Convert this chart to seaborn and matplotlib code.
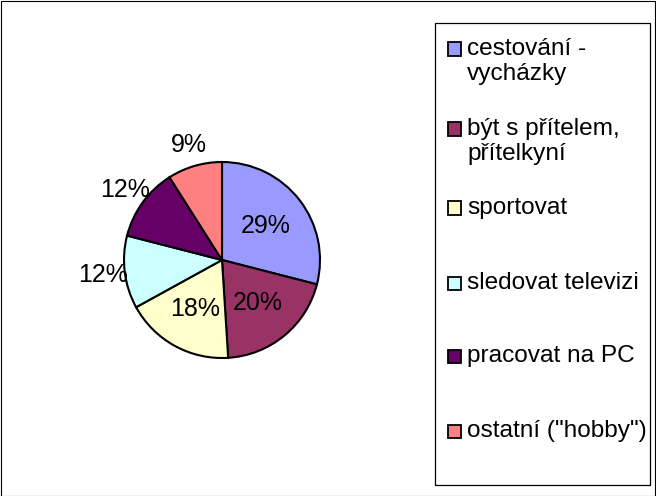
import matplotlib
matplotlib.use("Agg")
import matplotlib.pyplot as plt
import seaborn as sns
import numpy as np
from matplotlib.patches import Rectangle

categories = ["cestování -\nvycházky", "být s přítelem,\npřítelkyní", "sportovat",
              "sledovat televizi", "pracovat na PC", "ostatní (\"hobby\")"]
values = [29, 20, 18, 12, 12, 9]
colors = ["#9999FF", "#993366", "#FFFFCC", "#CCFFFF", "#660066", "#FF8080"]
inside = [True, True, True, False, False, False]

sns.set_theme(style="white")
plt.rcParams["font.family"] = ["Liberation Sans", "DejaVu Sans"]

W, H = 656, 496
fig = plt.figure(figsize=(W / 100, H / 100), dpi=100)
fig.patch.set_facecolor("white")

# pie axes: center (222, 260) px from top, radius 98 px
cx, cy, r = 222, H - 260, 98
half = 1.25 * r
ax = fig.add_axes([(cx - half) / W, (cy - half) / H, 2 * half / W, 2 * half / H])
wedges, _ = ax.pie(values, colors=colors, startangle=90, counterclock=False,
                   wedgeprops=dict(edgecolor="black", linewidth=1.5))
ax.set_xlim(-1.25, 1.25)
ax.set_ylim(-1.25, 1.25)

total = sum(values)
for w, v, ins in zip(wedges, values, inside):
    ang = np.deg2rad((w.theta1 + w.theta2) / 2)
    d = 0.57 if ins else 1.22
    ax.text(d * np.cos(ang), d * np.sin(ang), f"{round(100 * v / total)}%",
            ha="center", va="center", fontsize=18, color="black")

# outer border
fig.add_artist(Rectangle((0.5 / W, 0.5 / H), (W - 1.5) / W, (H - 1.5) / H,
                         transform=fig.transFigure, fill=False,
                         edgecolor="black", linewidth=0.8))

# legend box
lx0, ly0, lx1, ly1 = 435, 23, 650, 485
fig.add_artist(Rectangle((lx0 / W, (H - ly1) / H), (lx1 - lx0) / W, (ly1 - ly0) / H,
                         transform=fig.transFigure, fill=False,
                         edgecolor="black", linewidth=0.9))

entry_y = [49, 129, 208, 283, 356, 431]
sq = 13
for lab, col, y in zip(categories, colors, entry_y):
    fig.add_artist(Rectangle((448 / W, (H - y - sq / 2) / H), sq / W, sq / H,
                             transform=fig.transFigure, facecolor=col,
                             edgecolor="black", linewidth=1.3))
    fig.text(467 / W, (H - y + 11) / H, lab, ha="left", va="top",
             fontsize=17.6, color="black", linespacing=1.18)

fig.savefig("out.png", dpi=100, facecolor="white")
